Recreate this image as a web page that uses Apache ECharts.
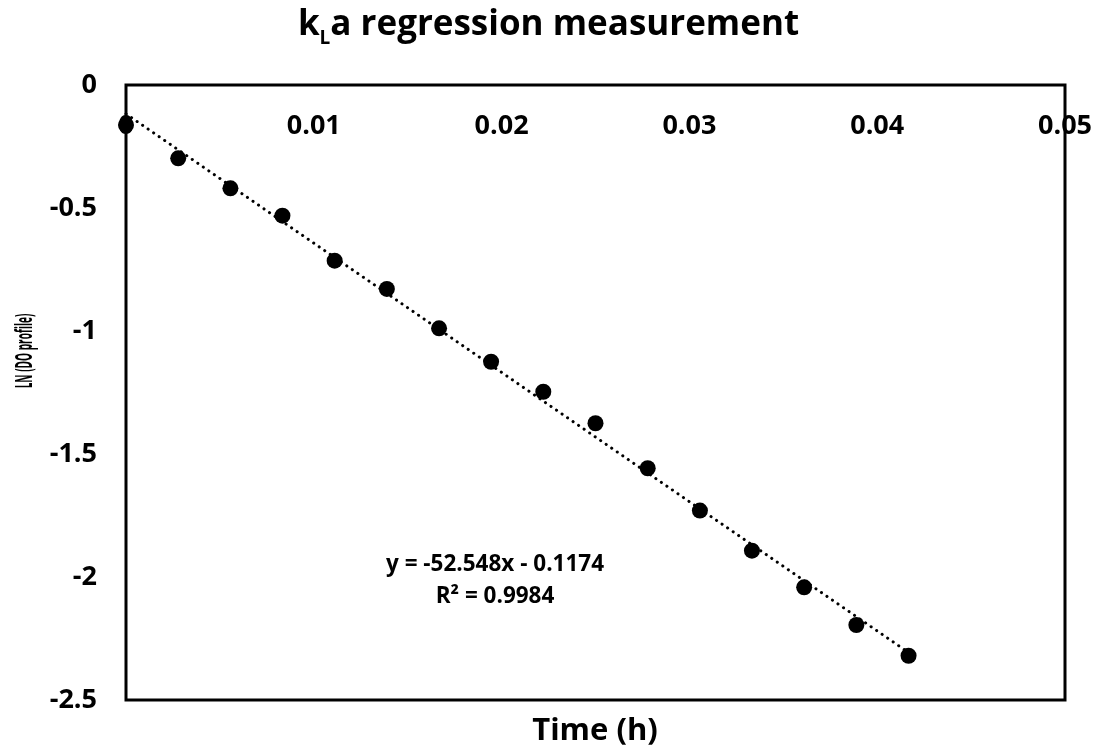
<!DOCTYPE html>
<html>
<head>
<meta charset="utf-8">
<script src="https://cdn.jsdelivr.net/npm/echarts@6/dist/echarts.min.js"></script>
<style>html,body{margin:0;padding:0;background:#fff;}#c{width:1097px;height:748px;}</style>
</head>
<body>
<div id="c"></div>
<script>
// Data
var timeH = [0, 0.00278, 0.00556, 0.00833, 0.01111, 0.01389, 0.01667, 0.01944, 0.02222, 0.025, 0.02778, 0.03056, 0.03333, 0.03611, 0.03889, 0.04167];
var lnDO = [-0.163, -0.298, -0.420, -0.531, -0.714, -0.829, -0.989, -1.125, -1.247, -1.375, -1.558, -1.730, -1.893, -2.042, -2.195, -2.320];
var trendSlope = -52.548;
var trendIntercept = -0.1174;
var trendRange = [0, 0.04167];
var equationLines = ['y = -52.548x - 0.1174', 'R\u00b2 = 0.9984'];
var xTicks = {min: 0, max: 0.05, interval: 0.01};
var yTicks = {min: -2.5, max: 0, interval: 0.5};

var FONT = '"Open Sans", "Noto Sans", sans-serif';
var points = timeH.map(function (t, i) { return [t, lnDO[i]]; });
var trend = trendRange.map(function (t) { return [t, trendSlope * t + trendIntercept]; });

var chart = echarts.init(document.getElementById('c'), null, {renderer: 'canvas'});
chart.setOption({
  backgroundColor: '#fff',
  animation: false,
  title: {
    left: 'center',
    top: -3,
    text: '{a|k}{s|L}{a|a regression measurement}',
    textStyle: {
      rich: {
        a: {fontFamily: FONT, fontWeight: 'bold', fontSize: 35, color: '#000', lineHeight: 46},
        s: {fontFamily: FONT, fontWeight: 'bold', fontSize: 19, color: '#000', lineHeight: 10, verticalAlign: 'bottom'}
      }
    }
  },
  grid: {left: 126, right: 32, top: 85, bottom: 48, show: true, borderColor: '#000', borderWidth: 3, backgroundColor: 'transparent'},
  xAxis: {
    type: 'value', position: 'top',
    min: xTicks.min, max: xTicks.max, interval: xTicks.interval,
    axisLine: {show: false}, axisTick: {show: false}, splitLine: {show: false},
    axisLabel: {inside: true, margin: 28, fontFamily: FONT, fontWeight: 'bold', fontSize: 27, color: '#000', showMinLabel: true, showMaxLabel: true}
  },
  yAxis: {
    type: 'value',
    min: yTicks.min, max: yTicks.max, interval: yTicks.interval,
    axisLine: {show: false}, axisTick: {show: false}, splitLine: {show: false},
    axisLabel: {margin: 29, fontFamily: FONT, fontWeight: 'bold', fontSize: 27, color: '#000'}
  },
  graphic: [
    {type: 'text', x: 595, y: 731, style: {text: 'Time (h)', font: 'bold 31px ' + FONT, fill: '#000', align: 'center', verticalAlign: 'middle'}},
    {type: 'text', x: 25, y: 351, rotation: Math.PI / 2, scaleX: 0.42, scaleY: 1, style: {text: 'LN (DO profile)', font: 'bold 24px ' + FONT, fill: '#000', align: 'center', verticalAlign: 'middle'}},
    {type: 'text', x: 495, y: 581, style: {text: equationLines.join('\n'), font: 'bold 22.5px ' + FONT, fill: '#000', align: 'center', verticalAlign: 'middle', lineHeight: 32}}
  ],
  series: [
    {
      type: 'line', data: trend, symbol: 'none', silent: true, z: 2,
      lineStyle: {color: '#000', width: 3, type: [0.1, 6.6], cap: 'round'}
    },
    {
      type: 'scatter', data: points, symbol: 'circle', symbolSize: 16, clip: false, z: 3,
      itemStyle: {color: '#000', opacity: 1}
    }
  ]
});
</script>
</body>
</html>
